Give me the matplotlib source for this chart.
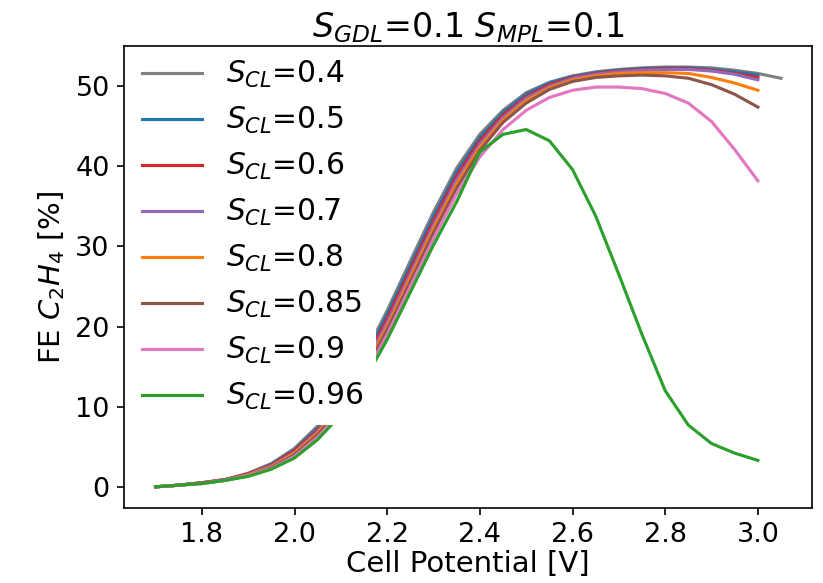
import numpy as np
import matplotlib
matplotlib.use("Agg")
import matplotlib.pyplot as plt

# cell potential [V]
V = [1.70, 1.75, 1.80, 1.85, 1.90, 1.95, 2.00, 2.05, 2.10, 2.15, 2.20, 2.25, 2.30, 2.35,
     2.40, 2.45, 2.50, 2.55, 2.60, 2.65, 2.70, 2.75, 2.80, 2.85, 2.90, 2.95, 3.00]
V_ext = V + [3.05]

# FE C2H4 [%] per CL saturation
fe_04 = [0.0, 0.2, 0.5, 0.9, 1.7, 2.9, 4.8, 7.6, 11.4, 16.3, 22.0, 28.2, 34.3, 39.8,
         44.0, 47.0, 49.2, 50.5, 51.3, 51.8, 52.1, 52.3, 52.4, 52.4, 52.3, 52.0, 51.6, 51.0]
fe_05 = [0.0, 0.2, 0.5, 0.9, 1.6, 2.8, 4.6, 7.3, 11.0, 15.8, 21.5, 27.6, 33.7, 39.3,
         43.6, 46.7, 49.0, 50.4, 51.2, 51.7, 52.0, 52.2, 52.3, 52.3, 52.1, 51.8, 51.4]
fe_06 = [0.0, 0.2, 0.5, 0.9, 1.6, 2.7, 4.5, 7.1, 10.7, 15.4, 21.0, 27.1, 33.2, 38.8,
         43.2, 46.4, 48.7, 50.2, 51.1, 51.6, 51.9, 52.1, 52.2, 52.2, 52.0, 51.6, 51.1]
fe_07 = [0.0, 0.2, 0.5, 0.9, 1.5, 2.6, 4.3, 6.9, 10.4, 15.0, 20.5, 26.6, 32.7, 38.3,
         42.8, 46.1, 48.5, 50.0, 51.0, 51.5, 51.8, 52.0, 52.1, 52.1, 51.9, 51.5, 50.8]
fe_08 = [0.0, 0.2, 0.5, 0.8, 1.5, 2.5, 4.2, 6.7, 10.1, 14.6, 20.0, 26.1, 32.2, 37.8,
         42.4, 45.8, 48.2, 49.8, 50.8, 51.3, 51.6, 51.7, 51.7, 51.6, 51.1, 50.4, 49.5]
fe_085 = [0.0, 0.2, 0.5, 0.8, 1.4, 2.4, 4.0, 6.5, 9.8, 14.2, 19.6, 25.6, 31.7, 37.3,
          42.0, 45.5, 47.9, 49.6, 50.6, 51.1, 51.3, 51.4, 51.3, 51.0, 50.2, 49.0, 47.4]
fe_09 = [0.0, 0.2, 0.4, 0.8, 1.4, 2.3, 3.8, 6.2, 9.4, 13.7, 19.0, 25.0, 31.0, 36.6,
         41.2, 44.6, 47.0, 48.6, 49.5, 49.9, 49.9, 49.7, 49.1, 47.9, 45.6, 42.1, 38.2]
fe_096 = [0.0, 0.2, 0.4, 0.8, 1.3, 2.2, 3.6, 5.9, 9.0, 13.2, 18.4, 24.3, 30.2, 35.6,
          41.8, 44.0, 44.6, 43.2, 39.6, 33.8, 26.5, 19.0, 12.0, 7.7, 5.4, 4.2, 3.3]

series = [
    ("0.4", V_ext, fe_04, "tab:gray"),
    ("0.5", V, fe_05, "tab:blue"),
    ("0.6", V, fe_06, "tab:red"),
    ("0.7", V, fe_07, "tab:purple"),
    ("0.8", V, fe_08, "tab:orange"),
    ("0.85", V, fe_085, "tab:brown"),
    ("0.9", V, fe_09, "tab:pink"),
    ("0.96", V, fe_096, "tab:green"),
]

fig = plt.figure(figsize=(823 / 150, 583 / 150), dpi=150)
ax = fig.add_axes([0.151, 0.129, 0.836, 0.792])

for s, x, y, c in series:
    ax.plot(x, y, color=c, label=r"$S_{CL}$=" + s)

ax.set_title(r"$S_{GDL}$=0.1 $S_{MPL}$=0.1", fontsize=16, pad=4)
ax.set_xlabel("Cell Potential [V]", fontsize=14, labelpad=1)
ax.set_ylabel(r"FE $C_2H_4$ [%]", fontsize=14)
ax.tick_params(labelsize=13)

leg = ax.legend(loc="upper left", fontsize=14.3, framealpha=1, edgecolor="white",
                borderaxespad=0.2, labelspacing=0.5, bbox_to_anchor=(0.0, 1.01))
# keep spines drawn over the legend box, lines under it
leg.set_zorder(2.2)

fig.savefig("out.png", dpi=150)
